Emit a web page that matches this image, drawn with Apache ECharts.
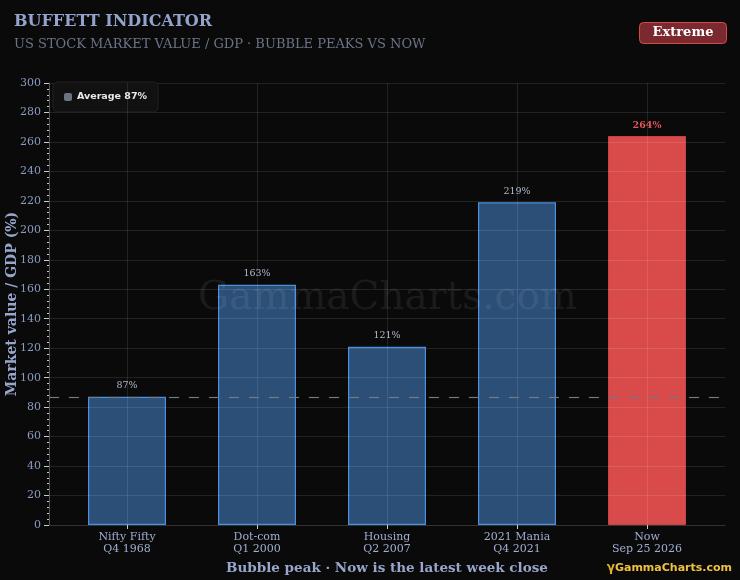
<!DOCTYPE html>
<html>
<head>
<meta charset="utf-8">
<script src="https://cdn.jsdelivr.net/npm/echarts@6/dist/echarts.min.js"></script>
<style>
  html, body { margin: 0; padding: 0; background: #0a0a0a; }
  #chart { width: 740px; height: 580px; }
</style>
</head>
<body>
<div id="chart"></div>
<script>
const categories = ['Nifty Fifty\nQ4 1968', 'Dot-com\nQ1 2000', 'Housing\nQ2 2007', '2021 Mania\nQ4 2021', 'Now\nSep 25 2026'];
const values = [87, 163, 121, 219, 264];
const average = 87;
const nowIndex = 4;

const SERIF = '"DejaVu Serif", serif';
const SANS = '"DejaVu Sans", sans-serif';
const GRID = 'rgba(255,255,255,0.1)';
const idx = categories.map((c, i) => i);

const chart = echarts.init(document.getElementById('chart'));

chart.setOption({
  backgroundColor: '#0a0a0a',
  title: [
    {
      text: 'BUFFETT INDICATOR',
      left: 14, top: 14, padding: 0,
      textStyle: { color: '#93a3cc', fontFamily: SERIF, fontSize: 16, fontWeight: 'bold' }
    },
    {
      text: 'US STOCK MARKET VALUE / GDP · BUBBLE PEAKS VS NOW',
      left: 14, top: 38, padding: 0,
      textStyle: { color: '#6b7387', fontFamily: SERIF, fontSize: 13, fontWeight: 'normal' }
    }
  ],
  legend: {
    left: 53, top: 82,
    padding: [10, 11, 10, 11],
    backgroundColor: '#111112',
    borderColor: '#222',
    borderWidth: 1,
    borderRadius: 5,
    itemWidth: 8, itemHeight: 8,
    icon: 'roundRect',
    textStyle: { color: '#e8e8ee', fontFamily: SANS, fontSize: 9.5, fontWeight: 'bold' },
    data: ['Average ' + average + '%']
  },
  grid: { left: 49, right: 15, top: 83, bottom: 55, outerBoundsMode: 'none', containLabel: false },
  xAxis: {
    type: 'value',
    min: -0.6,
    max: 4.6,
    z: 3,
    name: 'Bubble peak · Now is the latest week close',
    nameLocation: 'middle',
    nameGap: 36,
    nameMoveOverlap: false,
    nameTextStyle: { color: '#98a6cc', fontFamily: SERIF, fontSize: 13.5, fontWeight: 'bold' },
    axisLine: { show: true, onZero: false, lineStyle: { color: '#333' } },
    axisTick: { show: true, customValues: idx, length: 4, lineStyle: { color: '#ccc' } },
    axisLabel: {
      customValues: idx,
      color: '#a0aed0', fontFamily: SERIF, fontSize: 11, lineHeight: 12, margin: 6,
      formatter: v => categories[Math.round(v)] || ''
    },
    splitLine: { show: false }
  },
  yAxis: {
    type: 'value',
    min: 0, max: 300, interval: 20,
    z: 3,
    name: 'Market value / GDP (%)',
    nameLocation: 'middle',
    nameGap: 30,
    nameMoveOverlap: false,
    nameTextStyle: { color: '#98a6cc', fontFamily: SERIF, fontSize: 14, fontWeight: 'bold' },
    axisLine: { show: true, onZero: false, lineStyle: { color: '#555' } },
    axisTick: { show: true, length: 5, lineStyle: { color: '#ccc' } },
    minorTick: { show: true, splitNumber: 5, length: 2, lineStyle: { color: '#ccc' } },
    axisLabel: { color: '#8b9bc0', fontFamily: SERIF, fontSize: 11, margin: 8 },
    splitLine: { lineStyle: { color: GRID } }
  },
  series: [
    {
      type: 'bar',
      barWidth: 78,
      data: values.map((v, i) => {
        const isNow = i === nowIndex;
        return {
          value: [i, v],
          itemStyle: isNow
            ? { color: 'rgba(239,82,82,0.9)', borderColor: '#c94444', borderWidth: 1 }
            : { color: 'rgba(50,92,140,0.85)', borderColor: '#4a8fe0', borderWidth: 1.2 },
          label: isNow
            ? { color: '#e05555', fontWeight: 'bold' }
            : { color: '#b0b8cc' }
        };
      }),
      label: {
        show: true,
        position: 'top',
        distance: 6,
        fontFamily: SERIF,
        fontSize: 9.5,
        formatter: p => p.value[1] + '%'
      },
      z: 2
    },
    {
      type: 'line',
      name: 'Average ' + average + '%',
      data: [],
      itemStyle: { color: '#6b7280' },
      lineStyle: { color: '#6b7280' },
      markLine: {
        silent: true,
        symbol: 'none',
        z: 6,
        label: { show: false },
        lineStyle: { color: '#6f7a86', type: [10, 10], width: 1.2 },
        data: [{ yAxis: average }]
      },
      z: 6
    },
    {
      type: 'line',
      data: [],
      silent: true,
      markLine: {
        silent: true,
        symbol: 'none',
        label: { show: false },
        lineStyle: { color: GRID, type: 'solid', width: 1 },
        data: idx.map(i => ({ xAxis: i }))
      },
      z: 3
    }
  ],
  graphic: [
    {
      type: 'text',
      left: 198, top: 279,
      z: 10,
      silent: true,
      style: { text: 'GammaCharts.com', fill: 'rgba(255,255,255,0.07)', font: '39px "DejaVu Serif", serif' }
    },
    {
      type: 'group',
      right: 13, top: 22,
      children: [
        {
          type: 'rect',
          shape: { x: 0, y: 0, width: 87, height: 21, r: 4 },
          style: { fill: '#7a2a2e', stroke: '#d24a4a', lineWidth: 1 }
        },
        {
          type: 'text',
          x: 43.5, y: 10.5,
          style: { text: 'Extreme', fill: '#ffffff', font: 'bold 13px "DejaVu Serif", serif', align: 'center', verticalAlign: 'middle' }
        }
      ]
    },
    {
      type: 'text',
      right: 8, top: 562,
      style: {
        rich: {
          g: { fill: '#e0b030', font: 'bold 12px "DejaVu Sans", sans-serif' },
          t: { fill: '#f0c040', font: 'bold 11px "DejaVu Sans", sans-serif' }
        },
        text: '{g|γ}{t|GammaCharts.com}'
      }
    }
  ]
});
</script>
</body>
</html>
